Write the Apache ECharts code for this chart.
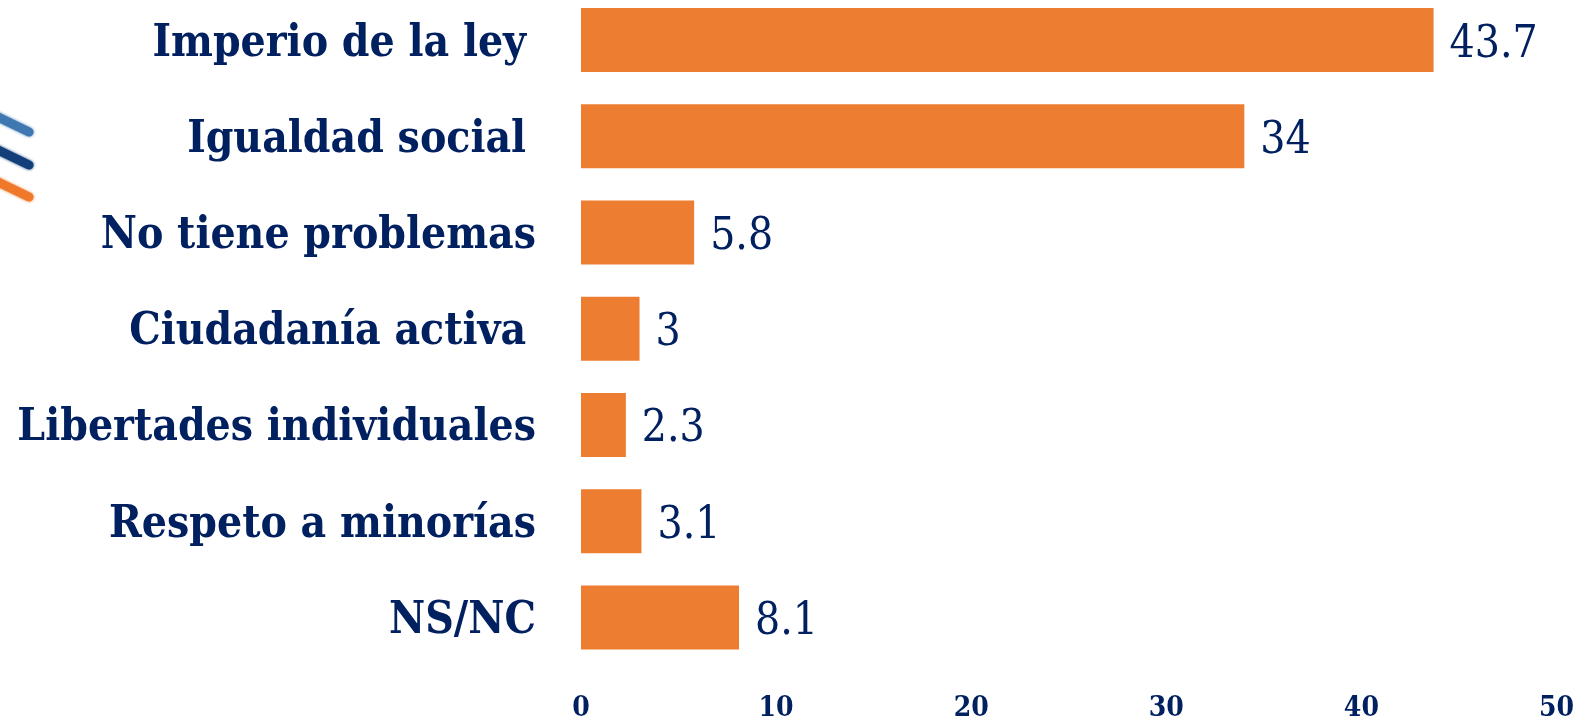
<!DOCTYPE html>
<html><head><meta charset="utf-8"><style>html,body{margin:0;padding:0;background:#fff}#c{width:1581px;height:721px}</style>
<script src="https://cdn.jsdelivr.net/npm/echarts@6/dist/echarts.min.js"></script></head>
<body><div id="c"></div><script>
const categories=["Imperio de la ley\u2005","Igualdad social\u2005","No tiene problemas","Ciudadanía activa\u2005","Libertades individuales","Respeto a minorías","NS/NC"];
const values=[43.7,34,5.8,3,2.3,3.1,8.1];
const tickLabels=[0,10,20,30,40,50];
const font="DejaVu Serif Condensed";
const chart=echarts.init(document.getElementById('c'));
const stripe=(y1,y2,color)=>({type:'line',shape:{x1:-6,y1:y1,x2:29,y2:y2},style:{stroke:color,lineWidth:9,lineCap:'round',shadowBlur:3,shadowColor:color}});
chart.setOption({animation:false,
graphic:[stripe(115,132,'#3F78B0'),stripe(148,165,'#123F7A'),stripe(180,197,'#F0782A')],
grid:{left:581,right:24.5,top:-8,height:673.6,containLabel:false,outerBoundsMode:'none'},
xAxis:{type:'value',min:0,max:50,interval:10,splitLine:{show:false},axisLine:{show:false},axisTick:{show:false},
axisLabel:{color:'#002060',fontFamily:font,fontWeight:'bold',fontSize:28,margin:29,formatter:v=>tickLabels[v/10]}},
yAxis:{type:'category',inverse:true,data:categories,axisLine:{show:false},axisTick:{show:false},
axisLabel:{color:'#002060',fontFamily:font,fontWeight:'bold',fontSize:44,margin:45,verticalAlign:'top',lineHeight:8}},
series:[{type:'bar',data:values,barWidth:64,itemStyle:{color:'#ED7D31'},
label:{show:true,position:'right',distance:16,offset:[0,5],color:'#002060',fontFamily:font,fontSize:44}}]});
</script></body></html>
